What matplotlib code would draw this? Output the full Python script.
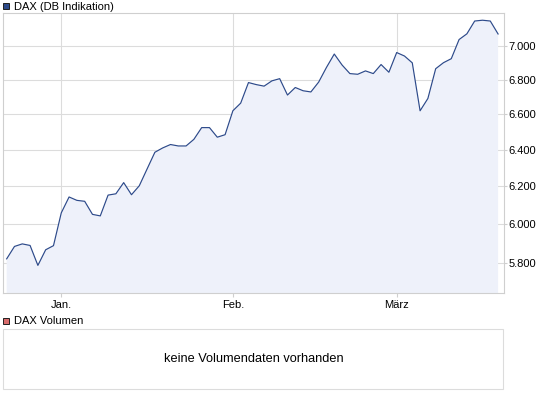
import numpy as np
import matplotlib
matplotlib.use("Agg")
import matplotlib.pyplot as plt
from matplotlib.patches import Rectangle
from matplotlib.ticker import NullLocator


# DAX Schlusskurse (Handelstage, Mitte Dez. bis Ende März)
dax_close = [5821, 5884, 5897, 5889, 5788, 5867, 5888, 6058, 6142, 6124,
             6119, 6050, 6042, 6152, 6159, 6219, 6154, 6202, 6293, 6385,
             6409, 6428, 6420, 6420, 6457, 6523, 6523, 6469, 6483, 6619,
             6663, 6783, 6771, 6762, 6793, 6806, 6710, 6754, 6735, 6728,
             6786, 6873, 6953, 6887, 6836, 6832, 6852, 6836, 6890, 6844,
             6962, 6941, 6900, 6619, 6690, 6865, 6901, 6925, 7041, 7076,
             7155, 7160, 7155, 7075]

month_pos = [7, 29, 50]
month_labels = ["Jan.", "Feb.", "März"]

y_ticks = [5800, 6000, 6200, 6400, 6600, 6800, 7000]
y_labels = ["5.800", "6.000", "6.200", "6.400", "6.600", "6.800", "7.000"]

LINE_COLOR = "#2d4a8a"
FILL_COLOR = "#eef1fa"
GRID_COLOR = "#dcdcdc"
BORDER_COLOR = "#cfcfcf"

plt.rcParams["font.family"] = ["Liberation Sans", "DejaVu Sans"]

W, H = 545, 398
fig = plt.figure(figsize=(W / 100, H / 100), dpi=100)

# Hauptchart
ax = fig.add_axes([2.7 / W, 1 - 293 / H, 501 / W, 280 / H])
x = np.arange(len(dax_close))
ax.set_yscale("log")
ax.fill_between(x, dax_close, 5000, color=FILL_COLOR, lw=0, zorder=1)
ax.plot(x, dax_close, color=LINE_COLOR, lw=0.85, zorder=3)

ax.set_xlim(-0.51, 63.72)
ax.set_ylim(5651, 7205)

ax.set_yticks(y_ticks)
ax.set_yticklabels(y_labels)
ax.yaxis.set_minor_locator(NullLocator())
ax.yaxis.tick_right()
ax.set_xticks(month_pos)
ax.set_xticklabels(month_labels)

ax.grid(True, color=GRID_COLOR, lw=0.8, zorder=0)
ax.set_axisbelow(True)
for s in ax.spines.values():
    s.set_color(BORDER_COLOR)
    s.set_linewidth(0.8)
ax.tick_params(axis="y", length=2, width=0.8, color=BORDER_COLOR, pad=1.5,
               labelsize=8, labelcolor="black")
ax.tick_params(axis="x", length=3, width=0.8, color=BORDER_COLOR, pad=2,
               labelsize=8, labelcolor="black")

# Legenden und Volumen-Panel in Pixelkoordinaten
ov = fig.add_axes([0, 0, 1, 1])
ov.set_xlim(0, W)
ov.set_ylim(H, 0)
ov.axis("off")

ov.add_patch(Rectangle((2.7, 2.7), 6.3, 6.3, fc=LINE_COLOR, ec="#202020", lw=0.7))
ov.text(14.5, 6.5, "DAX (DB Indikation)", fontsize=8, va="center", ha="left")

ov.add_patch(Rectangle((2.7, 318), 6.3, 6.3, fc="#d86b6b", ec="#202020", lw=0.7))
ov.text(14.5, 321.5, "DAX Volumen", fontsize=8, va="center", ha="left")

ov.add_patch(Rectangle((2.7, 329.3), 500.6, 60, fill=False, ec=GRID_COLOR, lw=0.8))
ov.text(254, 359, "keine Volumendaten vorhanden", fontsize=9.2, va="center", ha="center")

fig.savefig("out.png", dpi=100)
